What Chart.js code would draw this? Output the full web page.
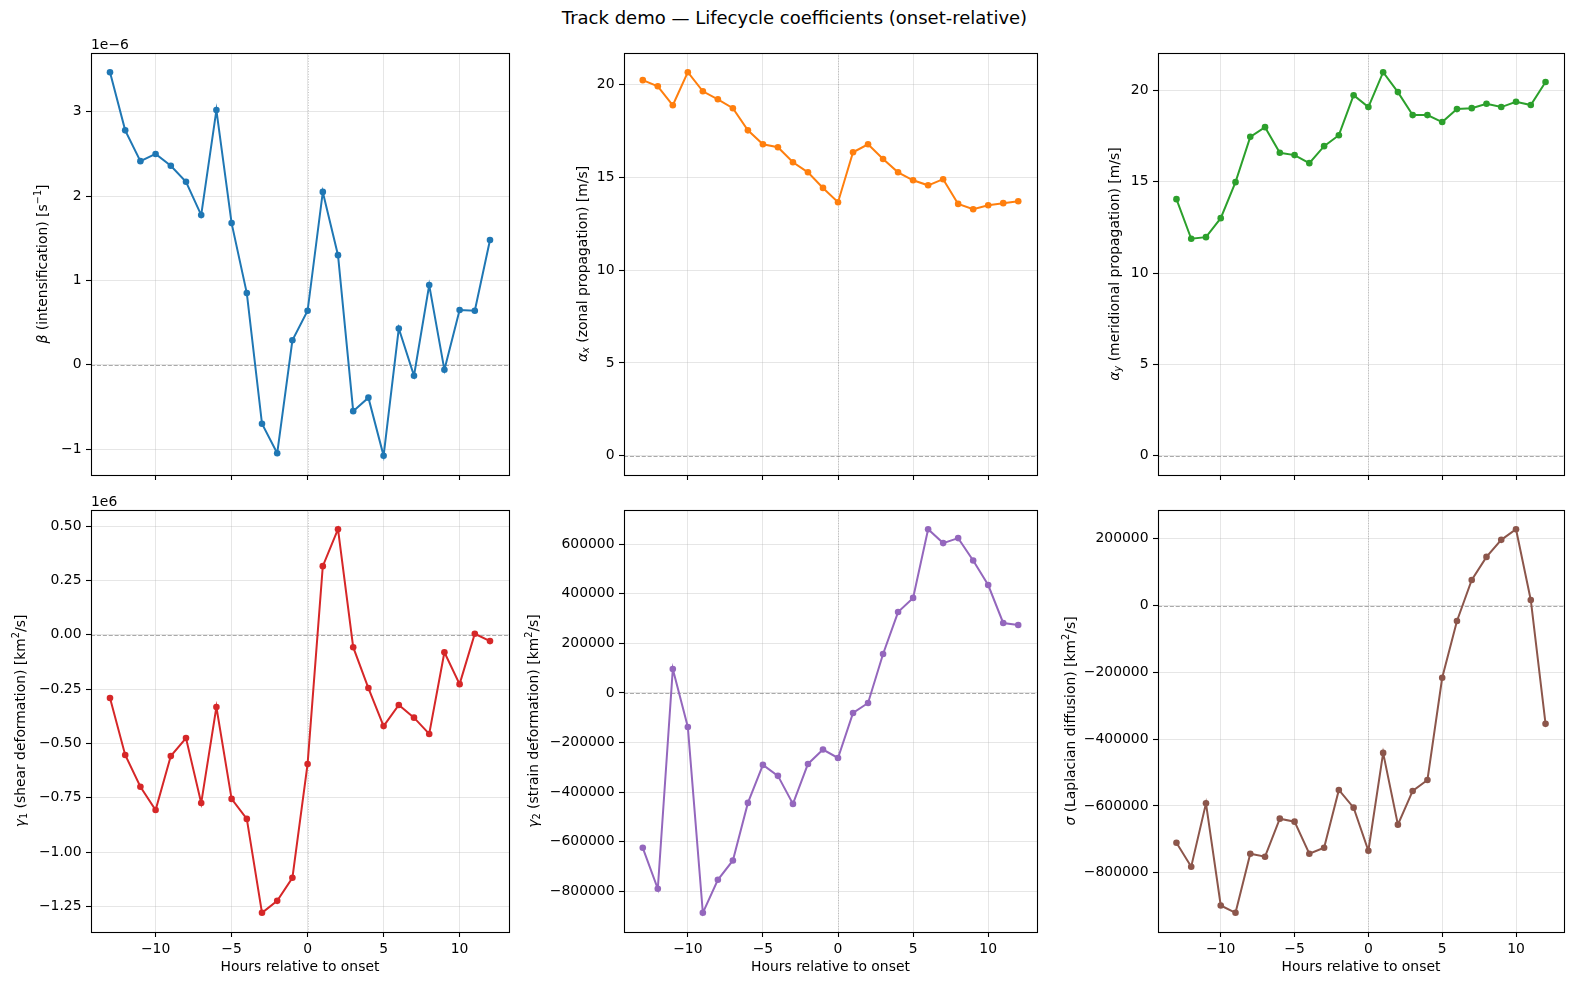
<!DOCTYPE html>
<html><head><meta charset="utf-8">
<script src="https://cdn.jsdelivr.net/npm/chart.js@4.4.1/dist/chart.umd.min.js"></script>
<style>
html,body{margin:0;padding:0;background:#fff;width:1589px;height:985px;overflow:hidden;position:relative;}
canvas{position:absolute;}
#title{position:absolute;left:0;width:1589px;top:0;text-align:center;font-family:"DejaVu Sans";font-size:18px;line-height:36px;color:#000;}
</style></head><body>
<div id="title">Track demo — Lifecycle coefficients (onset-relative)</div>
<script>
// ---------------- data ----------------
const hours = [-13,-12,-11,-10,-9,-8,-7,-6,-5,-4,-3,-2,-1,0,1,2,3,4,5,6,7,8,9,10,11,12];
const beta = [3.47e-6,2.78e-6,2.415e-6,2.50e-6,2.36e-6,2.17e-6,1.775e-6,3.02e-6,1.68e-6,0.85e-6,-0.70e-6,-1.05e-6,0.29e-6,0.64e-6,2.05e-6,1.30e-6,-0.55e-6,-0.39e-6,-1.08e-6,0.43e-6,-0.13e-6,0.945e-6,-0.06e-6,0.65e-6,0.64e-6,1.48e-6];
const alphaX = [20.22,19.89,18.87,20.65,19.62,19.19,18.71,17.52,16.77,16.61,15.80,15.26,14.42,13.65,16.34,16.77,15.98,15.26,14.83,14.56,14.89,13.56,13.27,13.49,13.60,13.70];
const alphaY = [14.05,11.88,11.97,13.01,14.98,17.46,17.99,16.59,16.46,16.02,16.95,17.55,19.74,19.09,21.00,19.91,18.65,18.65,18.27,18.98,19.03,19.27,19.09,19.38,19.20,20.46];
const gamma1 = [-291000,-553000,-699000,-806000,-558000,-475000,-774000,-332000,-755000,-847000,-1279000,-1224000,-1118000,-594000,316000,486000,-57000,-245000,-420000,-323000,-381000,-456000,-80000,-227000,5000,-29000];
const gamma2 = [-624000,-789000,96600,-137000,-886000,-753000,-675000,-443000,-290000,-334000,-447000,-286000,-228000,-262000,-80500,-40300,157000,326000,383000,660000,604000,624000,534000,435000,282000,274000];
const sigma = [-710000,-782000,-592000,-898000,-920000,-743000,-752000,-638000,-647000,-743000,-725000,-552000,-605000,-734000,-441000,-656000,-555000,-522000,-216000,-46000,77000,146000,197000,229000,17000,-354000];

// tick values
const xTicks = [-10,-5,0,5,10];
const betaTicks = [-1e-6,0,1e-6,2e-6,3e-6];
const alphaTicks = [0,5,10,15,20];
const gamma1Ticks = [-1.25e6,-1.0e6,-0.75e6,-0.5e6,-0.25e6,0,0.25e6,0.5e6];
const gamma2Ticks = [-800000,-600000,-400000,-200000,0,200000,400000,600000];
const sigmaTicks = [-800000,-600000,-400000,-200000,0,200000];

const xLabel = 'Hours relative to onset';
const FONT = '"DejaVu Sans"';
const FS = 13.9;

// ---------------- panels ----------------
const panels = [
  {values: beta, ticks: betaTicks, color:'#1f77b4', offsetText:'1e−6', fmt: v => String(Math.round(v/1e-6)),
   label:[{t:'β',it:1},{t:' (intensification) [s'},{t:'−1',sup:1},{t:']'}],
   box:{l:91,t:53,r:509,b:475}, bottom:false, labOff:48.5},
  {values: alphaX, ticks: alphaTicks, color:'#ff7f0e', fmt: v => String(v),
   label:[{t:'α',it:1},{t:'x',it:1,sub:1},{t:' (zonal propagation) [m/s]'}],
   box:{l:624,t:53,r:1037,b:475}, bottom:false, labOff:42},
  {values: alphaY, ticks: alphaTicks, color:'#2ca02c', fmt: v => String(v),
   label:[{t:'α',it:1},{t:'y',it:1,sub:1},{t:' (meridional propagation) [m/s]'}],
   box:{l:1158,t:53,r:1564,b:475}, bottom:false, labOff:44},
  {values: gamma1, ticks: gamma1Ticks, color:'#d62728', offsetText:'1e6', fmt: v => (v/1e6).toFixed(2),
   label:[{t:'γ',it:1},{t:'1',sub:1},{t:' (shear deformation) [km'},{t:'2',sup:1},{t:'/s]'}],
   box:{l:91,t:510,r:509,b:932}, bottom:true, labOff:71},
  {values: gamma2, ticks: gamma2Ticks, color:'#9467bd', fmt: v => String(v),
   label:[{t:'γ',it:1},{t:'2',sub:1},{t:' (strain deformation) [km'},{t:'2',sup:1},{t:'/s]'}],
   box:{l:624,t:510,r:1037,b:932}, bottom:true, labOff:91},
  {values: sigma, ticks: sigmaTicks, color:'#8c564b', fmt: v => String(v),
   label:[{t:'σ',it:1},{t:' (Laplacian diffusion) [km'},{t:'2',sup:1},{t:'/s]'}],
   box:{l:1158,t:510,r:1564,b:932}, bottom:true, labOff:88},
];

const minus = s => s.replace(/-/g,'−');

function drawRich(ctx, segs, cx, cy){
  ctx.save();
  ctx.translate(cx, cy);
  ctx.rotate(-Math.PI/2);
  ctx.fillStyle = '#000';
  ctx.textBaseline = 'alphabetic';
  ctx.textAlign = 'left';
  const fontOf = s => {
    const size = (s.sub||s.sup) ? FS*0.7 : FS;
    return (s.it ? 'italic ' : '') + size + 'px ' + FONT;
  };
  let total = 0;
  segs.forEach(s => { ctx.font = fontOf(s); s.w = ctx.measureText(s.t).width; total += s.w; });
  let x = -total/2;
  const base = 4.5;
  segs.forEach(s => {
    ctx.font = fontOf(s);
    let dy = 0;
    if (s.sup) dy = -5.8;
    if (s.sub) dy = 2.6;
    ctx.fillText(s.t, x, base + dy);
    x += s.w;
  });
  ctx.restore();
}

const LEFT = 112, TOP = 25, RIGHT = 8;

panels.forEach(p => {
  const w = p.box.r - p.box.l, h = p.box.b - p.box.t;
  const xh = p.bottom ? 44 : 16;
  const cv = document.createElement('canvas');
  cv.width = w + LEFT + RIGHT; cv.height = h + TOP + xh;
  cv.style.left = (p.box.l - LEFT) + 'px';
  cv.style.top = (p.box.t - TOP) + 'px';
  document.body.appendChild(cv);

  const dmin = Math.min(0, ...p.values), dmax = Math.max(0, ...p.values);
  const rng = dmax - dmin;
  const xmin = Math.min(...hours), xmax = Math.max(...hours);
  const xr = xmax - xmin;

  const plug = {
    id:'deco',
    beforeDatasetsDraw(chart){
      const {ctx, chartArea:a, scales:{x, y}} = chart;
      ctx.save();
      const px = Math.round(x.getPixelForValue(0)) + 0.5;
      ctx.strokeStyle = 'rgba(128,128,128,0.55)'; ctx.lineWidth = 0.8; ctx.setLineDash([1,1.6]);
      ctx.beginPath(); ctx.moveTo(px, a.top); ctx.lineTo(px, a.bottom); ctx.stroke();
      const py = Math.round(y.getPixelForValue(0)) + 0.5;
      ctx.strokeStyle = 'rgba(128,128,128,0.75)'; ctx.lineWidth = 0.9; ctx.setLineDash([4.1,1.8]);
      ctx.beginPath(); ctx.moveTo(a.left, py); ctx.lineTo(a.right, py); ctx.stroke();
      ctx.restore();
    },
    afterDraw(chart){
      const {ctx, chartArea:a} = chart;
      ctx.save();
      ctx.strokeStyle = '#000'; ctx.lineWidth = 1.1; ctx.setLineDash([]);
      ctx.strokeRect(Math.round(a.left)+0.5, Math.round(a.top)+0.5, Math.round(a.right-a.left), Math.round(a.bottom-a.top));
      if (p.offsetText){
        ctx.font = FS + 'px ' + FONT; ctx.fillStyle = '#000';
        ctx.textAlign = 'left'; ctx.textBaseline = 'alphabetic';
        ctx.fillText(p.offsetText, a.left, a.top - 4.5);
      }
      ctx.restore();
      drawRich(ctx, p.label, a.left - p.labOff, (a.top + a.bottom)/2);
    }
  };

  new Chart(cv, {
    type:'line',
    data:{datasets:[{
      data: hours.map((hh,i)=>({x:hh, y:p.values[i]})),
      borderColor:p.color, backgroundColor:p.color, borderWidth:2,
      pointRadius:3.3, pointBorderWidth:0, pointBackgroundColor:p.color, tension:0
    }]},
    options:{
      responsive:false, animation:false, devicePixelRatio:1,
      layout:{padding:{left:0, top:TOP, right:RIGHT, bottom:0}},
      plugins:{legend:{display:false}, tooltip:{enabled:false}},
      scales:{
        x:{type:'linear', min:xmin-0.05*xr, max:xmax+0.05*xr,
           afterBuildTicks: s => { s.ticks = xTicks.map(v=>({value:v})); },
           afterFit: s => { s.height = xh; },
           border:{display:false},
           grid:{color:'rgba(176,176,176,0.32)', lineWidth:1, drawTicks:true, tickLength:5, tickColor:'#000', tickWidth:1.1},
           ticks:{display:p.bottom, autoSkip:false, maxRotation:0, padding:4, color:'#000', font:{family:'DejaVu Sans', size:FS},
                  callback: v => minus(String(v))},
           title:{display:p.bottom, text:xLabel, color:'#000', font:{family:'DejaVu Sans', size:FS}, padding:0}
        },
        y:{type:'linear', min:dmin-0.05*rng, max:dmax+0.05*rng,
           afterBuildTicks: s => { s.ticks = p.ticks.map(v=>({value:v})); },
           afterFit: s => { s.width = LEFT; },
           border:{display:false},
           grid:{color:'rgba(176,176,176,0.32)', lineWidth:1, drawTicks:true, tickLength:5, tickColor:'#000', tickWidth:1.1},
           ticks:{autoSkip:false, padding:4.5, color:'#000', font:{family:'DejaVu Sans', size:FS},
                  callback: v => minus(p.fmt(v))}
        }
      }
    },
    plugins:[plug]
  });
});
</script>
</body></html>
